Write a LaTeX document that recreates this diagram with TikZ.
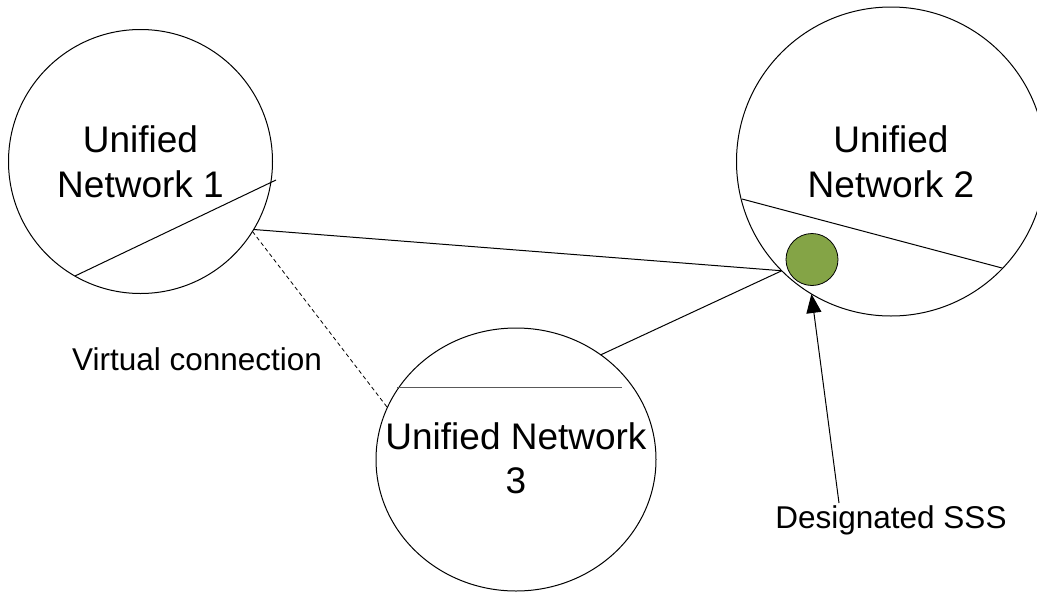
\documentclass[tikz,border=0pt]{standalone}
\usepackage{fontspec}
\setmainfont{Liberation Sans}
\usetikzlibrary{shapes.geometric,arrows.meta}
\definecolor{sssgreen}{RGB}{132,164,70}
\tikzset{
  net/.style={draw=black,line width=1pt,inner sep=0pt,outer sep=0pt,align=center,
    font=\fontsize{37}{45}\selectfont},
  nettext/.style={inner sep=0pt,align=center,font=\fontsize{37}{44}\selectfont},
  chordline/.style={draw=black,line width=1pt},
  link/.style={draw=black,line width=1pt},
  lbl/.style={inner sep=0pt,font=\fontsize{31.5}{38}\selectfont},
}
\begin{document}
\begin{tikzpicture}[x=1pt,y=-1pt]
\clip (0,0) rectangle (1037,592);
% networks
\node[net,circle,minimum size=264pt] (n1) at (140.5,161.5) {Unified\\Network 1};
\node[net,circle,minimum size=309pt] (n2) at (891,161.5) {Unified\\Network 2};
\node[net,ellipse,minimum width=280pt,minimum height=263pt] (n3) at (516,459.5) {};
\node[nettext] (t3) at (516,458) {Unified Network\\3};
% chords
\draw[chordline] (75,276) -- (276,180);
\draw[chordline] (742,199) -- (1002,268);
\draw[chordline,draw=black!65] (397,387) -- (622,387);
% designated SSS
\node[circle,draw=black,line width=0.8pt,fill=sssgreen,minimum size=52pt,inner sep=0pt] (sss) at (812,259.5) {};
% connections
\draw[link] (n1.-31.8) -- (n2.-135.1);
\draw[link] (n3.51.1) -- (n2.-135.1);
\draw[link,dashed,dash pattern=on 4pt off 3pt,line width=0.8pt] (n1.-32.1) -- (n3.158);
% labels
\node[lbl,anchor=base] (vc) at (197,370) {Virtual connection};
\node[lbl,anchor=base] (ds) at (891,528) {Designated SSS};
\coordinate (tail) at (839,503);
\draw[link,-{Triangle[width=15pt,length=19pt]}] (tail) -- (n2.-121);
\end{tikzpicture}
\end{document}
